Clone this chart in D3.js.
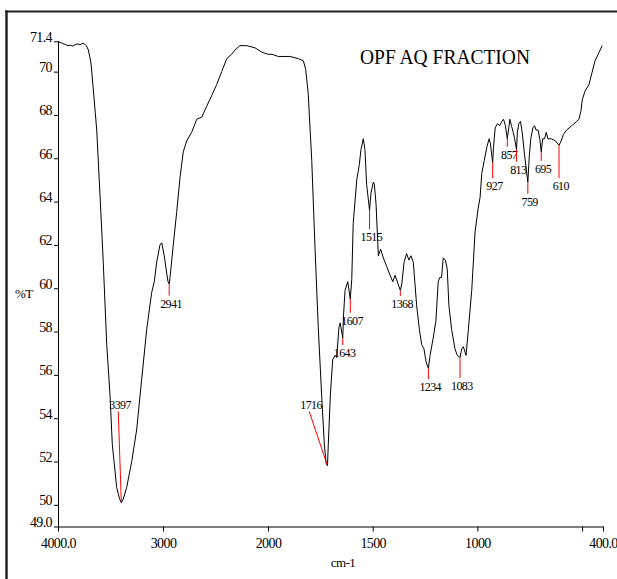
<!DOCTYPE html>
<html>
<head>
<meta charset="utf-8">
<script src="https://d3js.org/d3.v7.min.js"></script>
<style>
  body { margin: 0; background: #fff; }
  svg text { font-family: "Liberation Serif", "Times New Roman", serif; fill: #000; }
</style>
</head>
<body>
<div id="chart"></div>
<script>
// spectrum (cm-1, %T)
const wavenumbers = [
  4000, 3980, 3955, 3930, 3905, 3880, 3860, 3835, 3810, 3790, 3770, 3750, 3730, 3711, 3686, 3664,
  3631, 3600, 3569, 3536, 3505, 3483, 3441, 3415, 3397, 3380, 3346, 3298, 3250, 3203, 3155, 3108,
  3083, 3060, 3029, 3012, 2988, 2965, 2952, 2941, 2933, 2902, 2870, 2838, 2807, 2774, 2727, 2679,
  2631, 2584, 2536, 2489, 2441, 2393, 2346, 2314, 2267, 2203, 2124, 2060, 2000, 1981, 1951, 1895,
  1855, 1831, 1820, 1808, 1791, 1776, 1760, 1744, 1731, 1722, 1716, 1712, 1702, 1691, 1680, 1672,
  1661, 1655, 1643, 1639, 1632, 1619, 1607, 1600, 1593, 1576, 1564, 1556, 1545, 1537, 1529, 1515,
  1508, 1497, 1492, 1484, 1473, 1462, 1449, 1433, 1421, 1404, 1393, 1368, 1361, 1350, 1338, 1327,
  1317, 1306, 1290, 1277, 1266, 1255, 1245, 1234, 1226, 1211, 1198, 1187, 1179, 1171, 1163, 1153,
  1144, 1136, 1123, 1107, 1096, 1083, 1075, 1067, 1054, 1043, 1027, 1011, 996, 987, 979, 967,
  955, 944, 938, 927, 923, 915, 904, 894, 883, 875, 866, 857, 850, 845, 837, 829,
  822, 813, 809, 802, 794, 786, 774, 759, 752, 745, 735, 727, 719, 710, 702, 695,
  688, 679, 671, 663, 646, 627, 610, 600, 589, 574, 550, 526, 515, 505, 499, 486,
  467, 454, 438, 423, 404
];
const transmittance = [
  71.40, 71.35, 71.30, 71.25, 71.20, 71.22, 71.18, 71.25, 71.28, 71.24, 71.30, 71.28, 71.20, 71.00, 70.40, 69.20,
  67.30, 64.30, 61.20, 57.40, 55.10, 52.80, 50.80, 50.30, 50.10, 50.25, 50.80, 52.00, 53.50, 55.80, 58.10, 59.80,
  60.30, 61.20, 62.00, 62.10, 61.50, 60.70, 60.30, 60.20, 60.50, 62.00, 63.50, 65.10, 66.30, 66.80, 67.20, 67.80,
  67.90, 68.40, 68.90, 69.40, 70.00, 70.60, 70.80, 71.00, 71.20, 71.20, 71.10, 70.90, 70.80, 70.80, 70.70, 70.70,
  70.60, 70.50, 70.10, 69.00, 65.90, 62.00, 58.20, 55.10, 52.80, 51.90, 51.80, 52.80, 55.10, 56.70, 56.90, 56.80,
  58.20, 58.40, 57.70, 58.80, 59.90, 60.30, 59.50, 60.40, 63.00, 65.00, 65.70, 66.40, 66.90, 66.40, 64.80, 63.60,
  64.40, 64.90, 64.80, 63.90, 61.50, 61.80, 61.40, 61.00, 60.70, 60.30, 60.60, 59.90, 60.20, 61.20, 61.60, 61.30,
  61.50, 61.20, 59.20, 58.10, 57.40, 57.20, 56.60, 56.30, 56.90, 57.70, 58.50, 60.30, 60.50, 60.50, 61.40, 61.30,
  60.90, 59.20, 58.10, 57.20, 56.90, 56.80, 57.20, 57.30, 56.90, 58.10, 59.90, 62.60, 63.70, 64.20, 65.30, 65.90,
  66.50, 66.90, 66.70, 65.80, 66.50, 67.40, 67.60, 67.50, 67.70, 67.80, 67.50, 66.90, 67.40, 67.80, 67.50, 67.20,
  66.90, 66.40, 67.20, 67.60, 67.70, 67.20, 66.10, 64.90, 66.10, 66.90, 67.40, 67.50, 67.30, 67.30, 66.90, 66.30,
  66.90, 66.90, 67.20, 66.90, 66.90, 66.80, 66.60, 66.80, 67.10, 67.30, 67.50, 67.70, 67.80, 68.20, 68.70, 69.10,
  69.40, 69.90, 70.50, 70.80, 71.20
];

// labelled peaks
const peakWavenumbers   = [3397, 2941, 1716, 1643, 1607, 1515, 1368, 1234, 1083, 927, 857, 813, 759, 695, 610];
const peakLabelWavenums = [3426, 2941, 1803, 1643, 1607, 1515, 1368, 1234, 1083, 927, 857, 813, 759, 695, 610];
const peakLabelLevels   = [54.31, 59.66, 54.31, 57.38, 58.87, 62.72, 59.64, 55.80, 55.86, 65.08, 66.53, 65.84, 64.35, 65.87, 65.08];
const peakLabelAbove    = [true, false, true, false, false, false, false, false, false, false, false, false, false, false, false];

// ticks
const xTickValues = [4000, 3000, 2000, 1500, 1000, 500, 400];
const xTickLabels = ["4000.0", "3000", "2000", "1500", "1000", "", "400.0"];
const yTickValues = [49, 50, 52, 54, 56, 58, 60, 62, 64, 66, 68, 70, 71.4];
const yTickLabels = ["49.0", "50", "52", "54", "56", "58", "60", "62", "64", "66", "68", "70", "71.4"];

const chartTitle = "OPF AQ FRACTION";

const width = 617, height = 579;

const svg = d3.select('#chart').append('svg')
  .attr('width', width)
  .attr('height', height);

// frame (left + top edge)
svg.append('line').attr('x1', 6.5).attr('x2', 6.5).attr('y1', 10.5).attr('y2', height)
  .attr('stroke', '#222').attr('stroke-width', 2.5);
svg.append('line').attr('x1', 5).attr('x2', width).attr('y1', 11.5).attr('y2', 11.5)
  .attr('stroke', '#222').attr('stroke-width', 2);

// scales: x axis changes scale at 2000 cm-1
const x = d3.scaleLinear().domain([4000, 2000, 400]).range([58, 268, 603]);
const y = d3.scaleLinear().domain([49, 71.4]).range([526.5, 41.3]);

// axes
const axisX = svg.append('g')
  .attr('transform', `translate(0,${y(49)})`)
  .call(d3.axisBottom(x).tickValues(xTickValues)
    .tickFormat((d, i) => xTickLabels[i]).tickSize(5).tickPadding(7).tickSizeOuter(0));
axisX.selectAll('text').style('font-size', '14px').style('letter-spacing', '-0.6px');

const axisY = svg.append('g')
  .attr('transform', `translate(${x(4000)},0)`)
  .call(d3.axisLeft(y).tickValues(yTickValues)
    .tickFormat((d, i) => yTickLabels[i]).tickSize(4).tickPadding(2).tickSizeOuter(0));
axisY.selectAll('text').attr('dy', '0').style('font-size', '14px').style('letter-spacing', '-0.6px');

svg.selectAll('.domain, .tick line').attr('stroke', '#000');

// axis titles
svg.append('text').attr('x', 343).attr('y', 567).attr('text-anchor', 'middle')
  .style('font-size', '13px').style('letter-spacing', '-0.5px').text('cm-1');
svg.append('text').attr('x', 15).attr('y', 298)
  .style('font-size', '13px').style('letter-spacing', '-0.5px').text('%T');

// chart title
svg.append('text').attr('x', 360).attr('y', 64)
  .attr('textLength', 170).attr('lengthAdjust', 'spacingAndGlyphs')
  .style('font-size', '22px').text(chartTitle);

// spectrum
const spectrum = wavenumbers.map((w, i) => [w, transmittance[i]]);
svg.append('path')
  .datum(spectrum)
  .attr('fill', 'none')
  .attr('stroke', '#000')
  .attr('stroke-width', 1)
  .attr('d', d3.line().x(d => x(d[0])).y(d => y(d[1])));

// value of the curve at a wavenumber
const bisect = d3.bisector(d => -d).left;
function curveAt(w) {
  const i = bisect(wavenumbers, -w);
  if (i <= 0) return transmittance[0];
  if (i >= wavenumbers.length) return transmittance[transmittance.length - 1];
  const w0 = wavenumbers[i - 1], w1 = wavenumbers[i];
  const t = (w0 - w) / (w0 - w1);
  return transmittance[i - 1] + t * (transmittance[i] - transmittance[i - 1]);
}

// peak markers
const peaks = peakWavenumbers.map((w, i) => ({
  w, lw: peakLabelWavenums[i], level: peakLabelLevels[i], above: peakLabelAbove[i]
}));

const pk = svg.append('g').selectAll('g.peak').data(peaks).join('g').classed('peak', true);

pk.append('line')
  .attr('x1', d => x(d.w)).attr('y1', d => y(curveAt(d.w)))
  .attr('x2', d => x(d.lw)).attr('y2', d => y(d.level))
  .attr('stroke', '#ff0000').attr('stroke-width', 1);

pk.append('text')
  .attr('x', d => x(d.lw) + 1.8)
  .attr('y', d => d.above ? y(d.level) - 2.5 : y(d.level) + 12)
  .attr('text-anchor', 'middle')
  .style('font-size', '12px').style('letter-spacing', '-0.6px')
  .text(d => d.w);
</script>
</body>
</html>
